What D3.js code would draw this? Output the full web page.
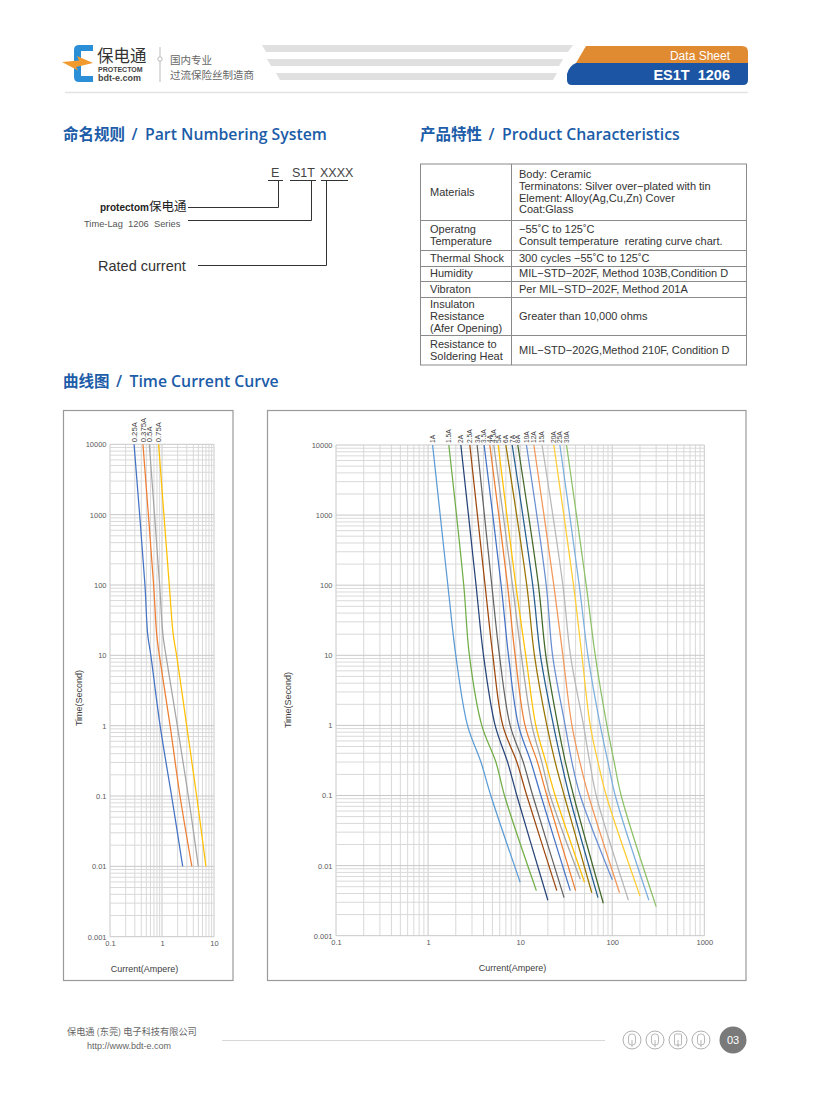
<!DOCTYPE html>
<html><head><meta charset="utf-8">
<script src="https://cdn.jsdelivr.net/npm/d3@7"></script>
<style>body{margin:0;background:#fff;} svg{display:block;}</style>
</head><body><svg id="page" width="815" height="1099"></svg>
<script>
// ---------------- DATA ----------------
const yTickValues = [0.001, 0.01, 0.1, 1, 10, 100, 1000, 10000];
const yTickLabels = ["0.001", "0.01", "0.1", "1", "10", "100", "1000", "10000"];
const leftXTickValues = [0.1, 1, 10];
const leftXTickLabels = ["0.1", "1", "10"];
const rightXTickValues = [0.1, 1, 10, 100, 1000];
const rightXTickLabels = ["0.1", "1", "10", "100", "1000"];

// left chart: times at which currents were read
const leftLevels = [10000, 100, 20, 10, 1, 0.1];
const leftSeries = ["0.25A", "0.375A", "0.5A", "0.75A"];
const leftCurrents = [
  [0.29, 0.47, 0.53, 0.61, 0.92, 1.53],
  [0.43, 0.69, 0.79, 0.89, 1.43, 2.22],
  [0.57, 0.90, 1.04, 1.19, 1.97, 3.21],
  [0.86, 1.38, 1.64, 1.91, 2.98, 4.64]
];
const leftEndCurrent = [2.5, 3.75, 5.0, 7.0];
const leftEndTime = [0.01, 0.01, 0.01, 0.01];
const leftColors = ["#4472C4", "#ED7D31", "#A5A5A5", "#FFC000"];

// right chart
const rightLevels = [10000, 100, 10, 1, 0.3, 0.1];
const rightSeries = ["1A","1.5A","2A","2.5A","3A","3.5A","4A","4.5A","5A","6A","7A","8A","10A","12A","15A","20A","25A","30A"];
const rightCurrents = [
  [1.12, 1.64, 2.00, 2.68, 3.75, 4.8],
  [1.68, 2.44, 2.81, 3.83, 5.45, 6.76],
  [2.27, 3.32, 4.00, 5.35, 7.3, 9.2],
  [2.84, 4.16, 5.05, 6.48, 9.2, 11.8],
  [3.41, 4.92, 5.96, 7.79, 10.8, 13.7],
  [4.06, 6.22, 7.47, 9.59, 13.1, 16.8],
  [4.68, 7.29, 8.82, 11.3, 15.4, 19.5],
  [5.17, 8.26, 10.3, 13.4, 17.2, 21.2],
  [5.77, 8.97, 11.5, 14.8, 19.0, 24.0],
  [6.99, 11.8, 14.3, 19.5, 24.0, 30.1],
  [8.19, 13.7, 16.6, 23.0, 28.0, 34.1],
  [9.43, 15.8, 19.0, 25.7, 31.0, 38.0],
  [11.7, 19.2, 22.5, 30.8, 36.5, 44.9],
  [14.1, 23.2, 29.1, 36.5, 44.5, 55.3],
  [17.3, 29.1, 35.2, 48.8, 57.0, 67.0],
  [23.2, 38.0, 46.8, 57.7, 70.0, 86.1],
  [27.0, 43.8, 54.4, 74.1, 90.0, 107.8],
  [31.9, 52.2, 65.4, 87.5, 105, 125]
];
const rightEndCurrent = [10, 15, 20, 25, 30, 35, 40, 45, 50, 60, 70, 80, 100, 120, 150, 200, 250, 300];
const rightEndTime = [0.0058, 0.0044, 0.0032, 0.0044, 0.0035, 0.0044, 0.0044, 0.0064, 0.0058, 0.0041, 0.0035, 0.0029, 0.0063, 0.0041, 0.0032, 0.0037, 0.0032, 0.0026];
const rightColors = ["#5B9BD5","#70AD47","#264478","#9E480E","#636363","#4472C4","#ED7D31","#A5A5A5","#FFC000","#997300","#255E91","#43682B","#698ED0","#F1975A","#B7B7B7","#FFCD33","#7CAFDD","#8CC168"];

// table
const tableLeft = [
  ["Materials"],
  ["Operatng", "Temperature"],
  ["Thermal Shock"],
  ["Humidity"],
  ["Vibraton"],
  ["Insulaton", "Resistance", "(Afer Opening)"],
  ["Resistance to", "Soldering Heat"]
];
const tableRight = [
  ["Body: Ceramic", "Terminatons: Silver over\u2212plated with tin", "Element: Alloy(Ag,Cu,Zn) Cover", "Coat:Glass"],
  ["\u221255\u02daC to 125\u02daC", "Consult temperature  rerating curve chart."],
  ["300 cycles \u221255\u02daC to 125\u02daC"],
  ["MIL\u2212STD\u2212202F, Method 103B,Condition D"],
  ["Per MIL\u2212STD\u2212202F, Method 201A"],
  ["Greater than 10,000 ohms"],
  ["MIL\u2212STD\u2212202G,Method 210F, Condition D"]
];

// ---------------- DRAW ----------------
const svg = d3.select("#page");
svg.append("rect").attr("width", 815).attr("height", 1099).attr("fill", "#fff");
const CJK = "'Noto Sans CJK SC', sans-serif";
const SANS = "'Liberation Sans', Arial, sans-serif";
const BLUE = "#1c5ca8";

// ---- header ----
const hdr = svg.append("g");
hdr.append("path").attr("d", "M93 45 L79 45 Q74 45 74 50 L74 77 Q74 82 79 82 L93 82 L93 76 L81 76 L81 51 L93 51 Z").attr("fill", "#2b8fd8");
hdr.append("path").attr("d", "M62 62 L79 60.5 L77 56 L93 63 L76 67 L78 70.5 Z").attr("fill", "#f29a2e");
hdr.append("text").attr("x", 97).attr("y", 62).attr("font-family", CJK).attr("font-size", 16.5).attr("fill", "#333").text("保电通");
hdr.append("text").attr("x", 98).attr("y", 72).attr("font-family", SANS).attr("font-weight", "bold").attr("font-size", 7).attr("fill", "#444").text("PROTECTOM");
hdr.append("text").attr("x", 98).attr("y", 81).attr("font-family", SANS).attr("font-weight", "bold").attr("font-size", 9).attr("fill", "#444").text("bdt-e.com");
hdr.append("line").attr("x1", 160).attr("x2", 160).attr("y1", 47).attr("y2", 82).attr("stroke", "#aaa").attr("stroke-width", 0.8);
hdr.append("circle").attr("cx", 160).attr("cy", 59).attr("r", 2.2).attr("fill", "#fff").attr("stroke", "#aaa").attr("stroke-width", 0.8);
hdr.append("text").attr("x", 170).attr("y", 64).attr("font-family", CJK).attr("font-size", 10.5).attr("fill", "#666").text("国内专业");
hdr.append("text").attr("x", 170).attr("y", 79).attr("font-family", CJK).attr("font-size", 10.5).attr("fill", "#666").text("过流保险丝制造商");
[[262, 573, 266, 568, 45, 52], [267, 563, 271, 559, 59, 66], [276, 557, 280, 553, 73, 80]].forEach(b => {
  hdr.append("path").attr("d", `M${b[0]} ${b[4]} L${b[1]} ${b[4]} L${b[3]} ${b[5]} L${b[2]} ${b[5]} Z`).attr("fill", "#e0e0e0");
});
hdr.append("path").attr("d", "M586 46 L742 46 Q748 46 748 52 L748 63 L576 63 Z").attr("fill", "#e08a32");
hdr.append("path").attr("d", "M576 63 L748 63 L748 80 Q748 85 743 85 L572 85 Q567 85 567 80 L567 74 Q569 66 576 63 Z").attr("fill", "#1b55a4");
hdr.append("text").attr("x", 730).attr("y", 59.5).attr("text-anchor", "end").attr("font-family", SANS).attr("font-size", 12).attr("fill", "#fff").text("Data Sheet");
hdr.append("text").attr("x", 730).attr("y", 80).attr("text-anchor", "end").attr("font-family", SANS).attr("font-weight", "bold").attr("font-size", 14.5).attr("fill", "#fff").attr("xml:space", "preserve").text("ES1T  1206");
hdr.append("line").attr("x1", 65).attr("x2", 748).attr("y1", 92.5).attr("y2", 92.5).attr("stroke", "#e2e2e2").attr("stroke-width", 1.5);

// ---- section titles ----
function title(x, y, cn, en) {
  const cw = cn.length * 15.5;
  svg.append("text").attr("x", x).attr("y", y).attr("font-family", CJK).attr("font-weight", 700).attr("font-size", 15.5).attr("fill", BLUE).text(cn);
  svg.append("text").attr("x", x + cw + 9.5).attr("y", y).attr("text-anchor", "middle").attr("font-family", "'Open Sans', sans-serif").attr("font-weight", 600).attr("font-size", 15.5).attr("fill", BLUE).text("/");
  svg.append("text").attr("x", x + cw + 20).attr("y", y).attr("font-family", "'Open Sans', sans-serif").attr("font-weight", 600).attr("font-size", 15.8).attr("fill", BLUE).text(en);
}
title(63, 140, "命名规则", "Part Numbering System");
title(420, 140, "产品特性", "Product Characteristics");
title(63, 387, "曲线图", "Time Current Curve");

// ---- part numbering ----
const pn = svg.append("g").attr("font-family", SANS).attr("fill", "#444");
pn.append("text").attr("x", 271).attr("y", 177).attr("font-size", 12.5).text("E");
pn.append("text").attr("x", 292).attr("y", 177).attr("font-size", 12.5).text("S1T");
pn.append("text").attr("x", 320).attr("y", 177).attr("font-size", 12.5).text("XXXX");
const pl = svg.append("g").attr("stroke", "#333").attr("stroke-width", 1).attr("fill", "none");
pl.append("line").attr("x1", 268).attr("x2", 283).attr("y1", 180.5).attr("y2", 180.5);
pl.append("line").attr("x1", 290).attr("x2", 316).attr("y1", 180.5).attr("y2", 180.5);
pl.append("line").attr("x1", 321).attr("x2", 348).attr("y1", 180.5).attr("y2", 180.5);
pl.append("path").attr("d", "M278.5 180.5 V207.5 H188");
pl.append("path").attr("d", "M311.5 180.5 V220.5 H188");
pl.append("path").attr("d", "M326.5 180.5 V265.5 H198");
const pt = svg.append("text").attr("x", 100).attr("y", 211).attr("fill", "#222");
pt.append("tspan").attr("font-family", SANS).attr("font-weight", "bold").attr("font-size", 10).text("protectom");
pt.append("tspan").attr("font-family", CJK).attr("font-size", 12.5).text("保电通");
svg.append("text").attr("x", 84).attr("y", 227).attr("font-family", SANS).attr("font-size", 9.3).attr("fill", "#555").attr("xml:space", "preserve").text("Time-Lag  1206  Series");
svg.append("text").attr("x", 98).attr("y", 271).attr("font-family", SANS).attr("font-size", 14.5).attr("fill", "#333").text("Rated current");

// ---- table ----
const rowB = [164, 220, 250, 266, 281, 297, 335, 365];
const tX0 = 420.5, tX1 = 746.5, tXm = 511.5, lh = 11.7;
const tg = svg.append("g");
tg.append("rect").attr("x", tX0).attr("y", rowB[0]).attr("width", tX1 - tX0).attr("height", rowB[7] - rowB[0]).attr("fill", "none").attr("stroke", "#8a8a8a").attr("stroke-width", 1);
tg.append("line").attr("x1", tXm).attr("x2", tXm).attr("y1", rowB[0]).attr("y2", rowB[7]).attr("stroke", "#8a8a8a");
rowB.slice(1, 7).forEach(yb => tg.append("line").attr("x1", tX0).attr("x2", tX1).attr("y1", yb + 0.5).attr("y2", yb + 0.5).attr("stroke", "#8a8a8a"));
function cell(lines, x, r) {
  const c = (rowB[r] + rowB[r + 1]) / 2;
  lines.forEach((s, i) => {
    tg.append("text").attr("x", x).attr("y", c + (i - (lines.length - 1) / 2) * lh + 3.9)
      .attr("font-family", SANS).attr("font-size", 11).attr("fill", "#333").attr("xml:space", "preserve").text(s);
  });
}
tableLeft.forEach((l, r) => cell(l, 430, r));
tableRight.forEach((l, r) => cell(l, 519, r));

// ---- charts ----
function drawChart(cfg) {
  const g = svg.append("g");
  g.append("rect").attr("x", cfg.frame[0]).attr("y", cfg.frame[1]).attr("width", cfg.frame[2]).attr("height", cfg.frame[3])
    .attr("fill", "#fff").attr("stroke", "#9a9a9a").attr("stroke-width", 1.2);
  const x = d3.scaleLog().domain(cfg.xDomain).range([cfg.px0, cfg.px1]);
  const y = d3.scaleLog().domain([0.001, 10000]).range([cfg.py1, cfg.py0]);
  const grid = g.append("g");
  x.ticks().forEach(v => {
    const major = Math.abs(Math.log10(v) - Math.round(Math.log10(v))) < 1e-6;
    grid.append("line").attr("x1", x(v)).attr("x2", x(v)).attr("y1", cfg.py0).attr("y2", cfg.py1)
      .attr("stroke", major ? "#c8c8c8" : "#d9d9d9").attr("stroke-width", 1);
  });
  y.ticks().forEach(v => {
    const major = Math.abs(Math.log10(v) - Math.round(Math.log10(v))) < 1e-6;
    grid.append("line").attr("x1", cfg.px0).attr("x2", cfg.px1).attr("y1", y(v)).attr("y2", y(v))
      .attr("stroke", major ? "#c8c8c8" : "#d9d9d9").attr("stroke-width", 1);
  });
  const ya = g.append("g").attr("transform", `translate(${cfg.px0},0)`)
    .call(d3.axisLeft(y).tickValues(yTickValues).tickFormat((d, i) => yTickLabels[i]).tickSize(0).tickPadding(3.5));
  const xa = g.append("g").attr("transform", `translate(0,${cfg.py1})`)
    .call(d3.axisBottom(x).tickValues(cfg.xTicks).tickFormat((d, i) => cfg.xLabels[i]).tickSize(0).tickPadding(4));
  [ya, xa].forEach(a => {
    a.select(".domain").remove();
    a.selectAll("text").attr("font-family", SANS).attr("font-size", 7.5).attr("fill", "#595959");
  });
  const line = d3.line().x(d => x(d[0])).y(d => y(d[1])).curve(d3.curveCatmullRom.alpha(0.5));
  cfg.series.forEach((name, i) => {
    const pts = cfg.levels.map((t, k) => [cfg.currents[i][k], t]);
    pts.push([cfg.endI[i], cfg.endT[i]]);
    g.append("path").attr("d", line(pts)).attr("fill", "none").attr("stroke", cfg.colors[i]).attr("stroke-width", 1.25);
    const lx = x(cfg.currents[i][0]) + cfg.labelFont * 0.36;
    g.append("text").attr("transform", `translate(${lx},${cfg.py0 - 2}) rotate(-90)`).attr("text-anchor", "start")
      .attr("font-family", SANS).attr("font-size", cfg.labelFont).attr("fill", "#404040").text(name);
  });
  g.append("text").attr("transform", `translate(${cfg.ytitle[0]},${cfg.ytitle[1]}) rotate(-90)`).attr("text-anchor", "middle")
    .attr("font-family", SANS).attr("font-size", 9).attr("fill", "#404040").text("Time(Second)");
  g.append("text").attr("x", cfg.xtitle[0]).attr("y", cfg.xtitle[1]).attr("text-anchor", "middle")
    .attr("font-family", SANS).attr("font-size", 9).attr("fill", "#404040").text("Current(Ampere)");
}

drawChart({
  frame: [63.5, 410.5, 169.5, 570], xDomain: [0.1, 10], px0: 110, px1: 214, py0: 444.3, py1: 936.7,
  xTicks: leftXTickValues, xLabels: leftXTickLabels, series: leftSeries, levels: leftLevels,
  currents: leftCurrents, endI: leftEndCurrent, endT: leftEndTime, colors: leftColors, labelFont: 7.7,
  ytitle: [81.5, 698], xtitle: [144.5, 971.5]
});
drawChart({
  frame: [267.5, 410.5, 478.5, 570], xDomain: [0.1, 1000], px0: 336, px1: 704.3, py0: 445, py1: 935.7,
  xTicks: rightXTickValues, xLabels: rightXTickLabels, series: rightSeries, levels: rightLevels,
  currents: rightCurrents, endI: rightEndCurrent, endT: rightEndTime, colors: rightColors, labelFont: 6.6,
  ytitle: [290.5, 700], xtitle: [512.5, 971]
});

// ---- footer ----
const ft = svg.append("g");
ft.append("text").attr("x", 67).attr("y", 1035).attr("font-family", CJK).attr("font-size", 9.2).attr("fill", "#666").text("保电通 (东莞) 电子科技有限公司");
ft.append("text").attr("x", 87).attr("y", 1048.5).attr("font-family", SANS).attr("font-size", 9).attr("fill", "#666").text("http://www.bdt-e.com");
ft.append("line").attr("x1", 222).attr("x2", 605).attr("y1", 1040.5).attr("y2", 1040.5).attr("stroke", "#d8d8d8").attr("stroke-width", 1);
[632, 655, 678, 701].forEach((cx, i) => {
  ft.append("circle").attr("cx", cx).attr("cy", 1040).attr("r", 9).attr("fill", "none").attr("stroke", "#9a9a9a").attr("stroke-width", 0.8);
  ft.append("rect").attr("x", cx - 3.5).attr("y", 1034).attr("width", 7).attr("height", 11).attr("rx", i === 2 ? 1 : 3).attr("fill", "none").attr("stroke", "#9a9a9a").attr("stroke-width", 0.7);
  ft.append("line").attr("x1", cx).attr("x2", cx).attr("y1", 1040).attr("y2", 1047).attr("stroke", "#9a9a9a").attr("stroke-width", 0.7);
});
ft.append("circle").attr("cx", 733).attr("cy", 1040).attr("r", 13.5).attr("fill", "#7a7a7a");
ft.append("text").attr("x", 733).attr("y", 1044).attr("text-anchor", "middle").attr("font-family", SANS).attr("font-size", 11).attr("fill", "#fff").text("03");
</script>
</body></html>
